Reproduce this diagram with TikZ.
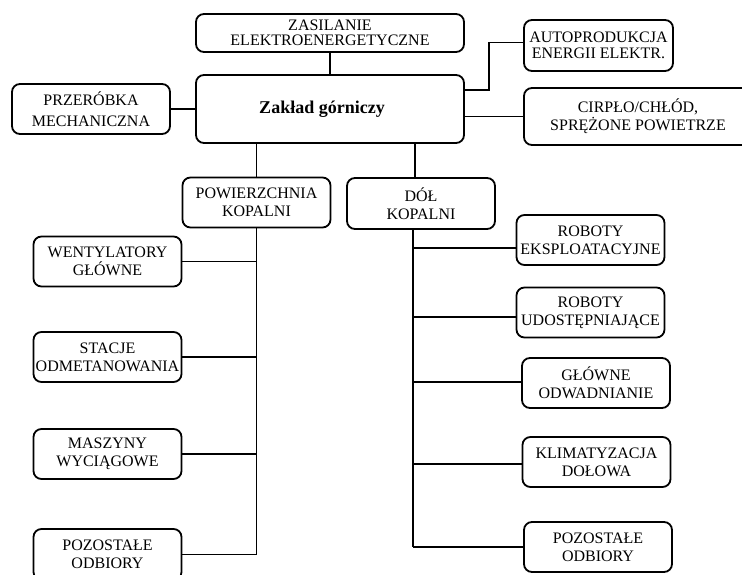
\documentclass[tikz,border=0pt]{standalone}
\usepackage{fontspec}
\setmainfont{Liberation Serif}
\begin{document}
\begin{tikzpicture}[x=1pt, y=-1pt, line width=1.8pt,
		blok/.style={draw, rounded corners=8pt, inner sep=0pt, align=center,
			font=\fontsize{16}{18}\selectfont},
		sz/.style={minimum width=148pt, minimum height=50pt}
		]
	\clip (0,0) rectangle (742,574);
	\node [blok, minimum width=268pt, minimum height=38pt, font=\fontsize{16}{15}\selectfont] (zas) at (330,33) {ZASILANIE\\ELEKTROENERGETYCZNE};
	\node [blok, minimum width=268pt, minimum height=68pt, font=\fontsize{18}{20}\selectfont\bfseries] (zak) at (330,109) {Zakład górniczy\hspace*{16pt}};
	\node [blok, minimum width=158pt, minimum height=50pt, font=\fontsize{16}{21}\selectfont] (prz) at (91,109) {PRZERÓBKA\\MECHANICZNA};
	\node [blok, minimum width=149pt, minimum height=51pt, font=\fontsize{16}{16}\selectfont] (auto) at (598.5,45.5) {AUTOPRODUKCJA\\ENERGII ELEKTR.};
	\node [blok, minimum width=228pt, minimum height=57pt] (cie) at (638,116.5) {CIRPŁO/CHŁÓD,\\SPRĘŻONE POWIETRZE};
	\node [blok, sz] (pow) at (256.5,202.5) {POWIERZCHNIA\\KOPALNI};
	\node [blok, sz, minimum height=51pt] (dol) at (421,203.5) {DÓŁ\\KOPALNI};
	\node [blok, sz] (went) at (107.5,261.5) {WENTYLATORY\\GŁÓWNE};
	\node [blok, sz] (stac) at (107.5,357) {STACJE\\ODMETANOWANIA};
	\node [blok, sz] (masz) at (107.5,454) {MASZYNY\\WYCIĄGOWE};
	\node [blok, sz, minimum height=51pt] (pozl) at (107.5,554.5) {POZOSTAŁE\\ODBIORY};
	\node [blok, sz] (rob1) at (590.5,240) {ROBOTY\\EKSPLOATACYJNE};
	\node [blok, sz] (rob2) at (590.5,312.5) {ROBOTY\\UDOSTĘPNIAJĄCE};
	\node [blok, sz] (glo) at (596,383) {GŁÓWNE\\ODWADNIANIE};
	\node [blok, sz] (kli) at (596.5,462) {KLIMATYZACJA\\DOŁOWA};
	\node [blok, sz] (pozr) at (598,547) {POZOSTAŁE\\ODBIORY};
	\draw (zas) -- (zak);
	\draw (prz) -- (zak);
	\draw ([yshift=19pt]zak.east) -- ++(24,0) |- ([yshift=3pt]auto.west);
	\draw (cie.west) -- (cie.west -| zak.east);
	\draw (pow.north) -- (pow.north |- zak.south);
	\draw ([xshift=-6pt]dol.north) -- ([xshift=-6pt]dol.north |- zak.south);
	\draw (pow.south) -- (pow.south |- pozl);
	\foreach \n in {went,stac,masz,pozl}
		\draw (\n.east) -- (\n.east -| pow.south);
	\coordinate (spine) at ([xshift=-8pt]dol.south);
	\draw (spine) -- (spine |- pozr);
	\foreach \n/\dy in {rob1/8,rob2/4.5,glo/-1,kli/2,pozr/0}
		\draw ([yshift=-\dy pt]\n.west) -- ([yshift=-\dy pt]\n.west -| spine);
\end{tikzpicture}
\end{document}
